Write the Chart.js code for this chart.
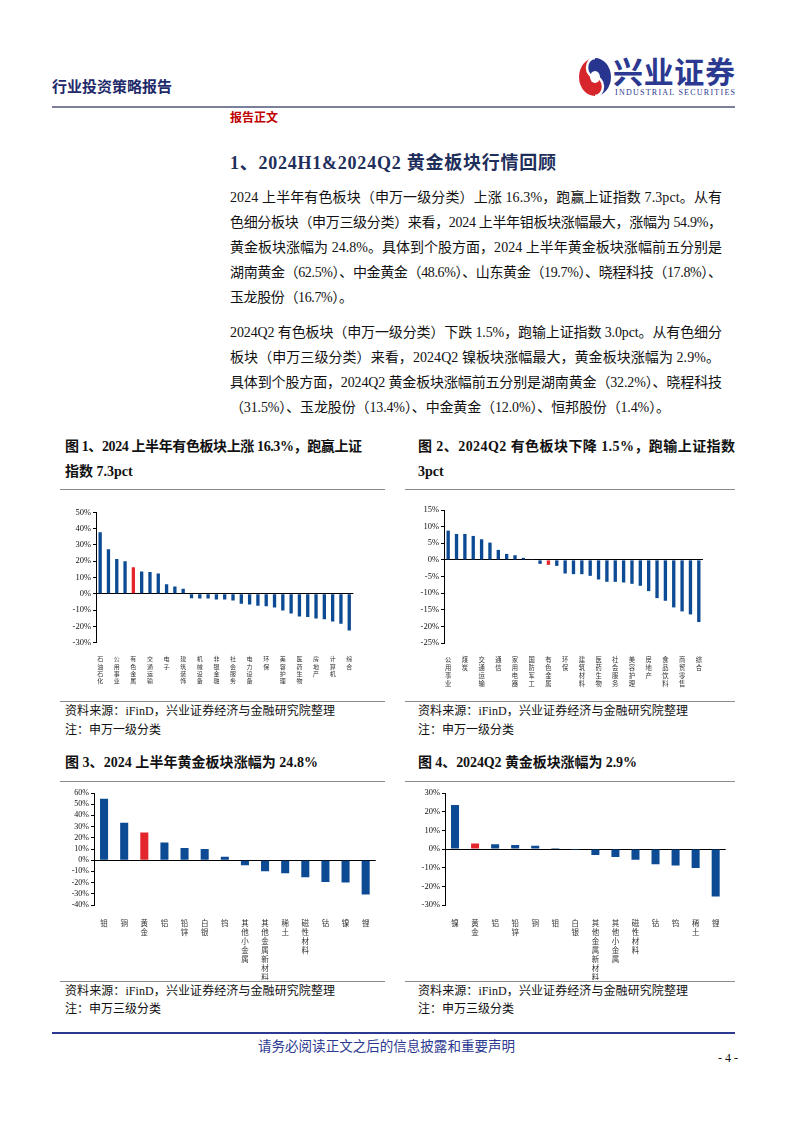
<!DOCTYPE html>
<html><head><meta charset="utf-8">
<script src="https://cdn.jsdelivr.net/npm/chart.js@4.4.1/dist/chart.umd.min.js"></script>
<style>
body{margin:0;background:#fff;}
#page{position:relative;width:802px;height:1133px;overflow:hidden;font-family:"Liberation Serif","Noto Sans CJK SC",serif;color:#111;background:#fff;}
.a{position:absolute;white-space:nowrap;}
.body{font-size:14px;line-height:20px;height:20px;left:230px;}
.ft{font-size:14px;font-weight:bold;line-height:20px;}
.src{font-size:12px;line-height:16px;}
.hr{position:absolute;height:0;border-top:1.5px solid #8a8a8a;}
.box{position:absolute;}
</style></head>
<body><div id="page">

<div class="a" style="left:52px;top:76px;font-size:15px;line-height:20px;font-weight:bold;color:#1f2a6b;font-family:'Noto Sans CJK SC';">行业投资策略报告</div>
<svg class="a" style="left:578px;top:57px" width="34" height="40" viewBox="0 0 34 40">
  <path d="M17,1 A16,19 0 0,0 17,39 A8,9.5 0 0,0 17,20 A8,9.5 0 0,1 17,1 Z" fill="#d7262b"/>
  <path d="M17,1 A16,19 0 0,1 17,39 A8,9.5 0 0,0 17,20 A8,9.5 0 0,1 17,1 Z" fill="#27358f"/>
  <path d="M17,39 A8,9.5 0 0,0 17,20 A8,9.5 0 0,1 17,1" fill="none" stroke="#fff" stroke-width="2.5"/>
  <ellipse cx="17" cy="20" rx="5" ry="6" fill="#fff"/>
</svg>
<div class="a" style="left:613px;top:52px;font-size:30px;line-height:36px;font-weight:bold;color:#2b3990;font-family:'Noto Sans CJK SC';" data-w="122">兴业证券</div>
<div class="a" style="left:615px;top:88px;font-size:8px;line-height:10px;color:#2b3990;font-family:'Liberation Serif';" data-w="120">INDUSTRIAL SECURITIES</div>
<div class="hr" style="left:52px;top:106px;width:683px;border-top:2px solid #7b7f99;"></div>
<div class="a" style="left:230px;top:109px;font-size:12px;line-height:15px;font-weight:bold;color:#c00000;font-family:'Noto Sans CJK SC';">报告正文</div>

<div class="a" style="left:230px;top:151px;font-size:18px;line-height:24px;font-weight:bold;color:#1f2f5c;" data-w="326">1、2024H1&amp;2024Q2 黄金板块行情回顾</div>

<div class="a body" style="top:188px" data-w="492">2024 上半年有色板块（申万一级分类）上涨 16.3%，跑赢上证指数 7.3pct。从有</div>
<div class="a body" style="top:213px" data-w="492">色细分板块（申万三级分类）来看，2024 上半年钼板块涨幅最大，涨幅为 54.9%，</div>
<div class="a body" style="top:238px" data-w="492">黄金板块涨幅为 24.8%。具体到个股方面，2024 上半年黄金板块涨幅前五分别是</div>
<div class="a body" style="top:263px" data-w="492">湖南黄金（62.5%）、中金黄金（48.6%）、山东黄金（19.7%）、晓程科技（17.8%）、</div>
<div class="a body" style="top:288px" data-w="123">玉龙股份（16.7%）。</div>

<div class="a body" style="top:323px" data-w="492">2024Q2 有色板块（申万一级分类）下跌 1.5%，跑输上证指数 3.0pct。从有色细分</div>
<div class="a body" style="top:348px" data-w="490">板块（申万三级分类）来看，2024Q2 镍板块涨幅最大，黄金板块涨幅为 2.9%。</div>
<div class="a body" style="top:373px" data-w="492">具体到个股方面，2024Q2 黄金板块涨幅前五分别是湖南黄金（32.2%）、晓程科技</div>
<div class="a body" style="top:398px" data-w="440">（31.5%）、玉龙股份（13.4%）、中金黄金（12.0%）、恒邦股份（1.4%）。</div>

<div class="a ft" style="left:65px;top:437px" data-w="297">图 1、2024 上半年有色板块上涨 16.3%，跑赢上证</div>
<div class="a ft" style="left:65px;top:462px">指数 7.3pct</div>
<div class="a ft" style="left:418px;top:437px" data-w="317">图 2、2024Q2 有色板块下降 1.5%，跑输上证指数</div>
<div class="a ft" style="left:418px;top:462px">3pct</div>
<div class="hr" style="left:60px;top:489px;width:325px;"></div>
<div class="hr" style="left:405px;top:489px;width:330px;"></div>

<div class="box" style="left:60px;top:500px;width:305px;height:192px;"><canvas id="c1"></canvas></div>
<div class="box" style="left:405px;top:500px;width:310px;height:192px;"><canvas id="c2"></canvas></div>

<div class="hr" style="left:60px;top:701px;width:325px;"></div>
<div class="hr" style="left:405px;top:701px;width:330px;"></div>
<div class="a src" style="left:65px;top:703px" data-w="270">资料来源：iFinD，兴业证券经济与金融研究院整理</div>
<div class="a src" style="left:65px;top:722px">注：申万一级分类</div>
<div class="a src" style="left:418px;top:703px" data-w="270">资料来源：iFinD，兴业证券经济与金融研究院整理</div>
<div class="a src" style="left:418px;top:722px">注：申万一级分类</div>

<div class="a ft" style="left:65px;top:753px" data-w="253">图 3、2024 上半年黄金板块涨幅为 24.8%</div>
<div class="a ft" style="left:418px;top:753px" data-w="219">图 4、2024Q2 黄金板块涨幅为 2.9%</div>
<div class="hr" style="left:60px;top:781px;width:325px;"></div>
<div class="hr" style="left:405px;top:781px;width:330px;"></div>

<div class="box" style="left:60px;top:785px;width:323px;height:195px;"><canvas id="c3"></canvas></div>
<div class="box" style="left:405px;top:785px;width:328px;height:195px;"><canvas id="c4"></canvas></div>

<div class="hr" style="left:60px;top:981px;width:325px;"></div>
<div class="hr" style="left:405px;top:981px;width:330px;"></div>
<div class="a src" style="left:65px;top:983px" data-w="270">资料来源：iFinD，兴业证券经济与金融研究院整理</div>
<div class="a src" style="left:65px;top:1001px">注：申万三级分类</div>
<div class="a src" style="left:418px;top:983px" data-w="270">资料来源：iFinD，兴业证券经济与金融研究院整理</div>
<div class="a src" style="left:418px;top:1001px">注：申万三级分类</div>

<div class="hr" style="left:52px;top:1032px;width:683px;border-top:2px solid #2b3990;"></div>
<div class="a" style="left:258px;top:1036px;font-size:13.5px;line-height:18px;color:#2b3990;font-family:'Noto Sans CJK SC';" data-w="257">请务必阅读正文之后的信息披露和重要声明</div>
<div class="a" style="left:718px;top:1050px;font-size:12px;line-height:16px;">- 4 -</div>

</div>
<script>
// ---- data ----
const sw1H1Labels = ['石油石化','银行','公用事业','煤炭','有色金属','家用电器','交通运输','通信','电子','汽车','建筑装饰','钢铁','机械设备','基础化工','非银金融','国防军工','社会服务','食品饮料','电力设备','建筑材料','环保','轻工制造','美容护理','纺织服饰','医药生物','农林牧渔','房地产','传媒','计算机','商贸零售','综合'];
const sw1H1Values = [37.7, 27.3, 21.3, 19.9, 16.3, 13.7, 13.3, 12.5, 5.9, 4.5, 3.1, -2.7, -2.9, -2.9, -3.5, -3.5, -4.1, -6.1, -6.6, -7.4, -7.6, -8.4, -10.2, -12.1, -13.9, -14.3, -15.2, -15.6, -17.0, -18.4, -22.5];
const sw1Q2Labels = ['公用事业','银行','煤炭','石油石化','交通运输','电子','通信','汽车','家用电器','非银金融','国防军工','钢铁','有色金属','机械设备','环保','基础化工','建筑材料','建筑装饰','医药生物','电力设备','社会服务','轻工制造','美容护理','纺织服饰','房地产','农林牧渔','食品饮料','传媒','商贸零售','计算机','综合'];
const sw1Q2Values = [8.8, 7.8, 7.8, 7.2, 6.2, 5.2, 3.0, 1.8, 1.4, 0.6, 0.1, -1.2, -1.5, -1.8, -4.1, -4.3, -4.3, -4.8, -5.9, -6.6, -6.6, -6.8, -7.2, -7.8, -9.4, -11.5, -12.3, -14.3, -15.5, -16.4, -18.7];
const sw3H1Labels = ['钼','铜','黄金','铝','铅锌','白银','钨','其他小金属','其他金属新材料','稀土','磁性材料','钴','镍','锂'];
const sw3H1Values = [54.9, 33.5, 24.8, 15.8, 11.0, 10.1, 3.0, -4.5, -9.9, -11.6, -15.2, -19.4, -20.0, -30.7];
const sw3Q2Labels = ['镍','黄金','铝','铅锌','铜','钼','白银','其他金属新材料','其他小金属','磁性材料','钴','钨','稀土','锂'];
const sw3Q2Values = [23.6, 2.9, 2.5, 2.1, 1.8, 0.5, -0.5, -3.2, -4.3, -5.7, -8.2, -8.8, -10.2, -25.5];

const BLUE = '#0c4a94', RED = '#e2262b';
const CJK = '"Noto Sans CJK SC", sans-serif';

function fitAll(){
  document.querySelectorAll('[data-w]').forEach(el=>{
    el.style.letterSpacing='0px';
    const w = el.getBoundingClientRect().width;
    const n = Array.from(el.textContent).length;
    if(n>1) el.style.letterSpacing = ((+el.dataset.w - w)/(n-1)) + 'px';
  });
}
fitAll();
if(document.fonts && document.fonts.ready) document.fonts.ready.then(fitAll);

function barChart(id, labels, values, hiName, cfg){
  const colors = labels.map(l => l === hiName ? RED : BLUE);
  return new Chart(document.getElementById(id), {
    type: 'bar',
    data: { labels: labels.map(s => Array.from(s)),
      datasets: [{ data: values, backgroundColor: colors, borderWidth: 0, barPercentage: 0.8, categoryPercentage: 0.5 }] },
    options: {
      responsive: true, maintainAspectRatio: false, animation: false,
      layout: { padding: { top: cfg.padTop, right: cfg.padRight, left: 0, bottom: 0 } },
      plugins: { legend: { display: false }, tooltip: { enabled: false } },
      scales: {
        x: {
          grid: { display: false, drawTicks: false }, border: { display: false },
          ticks: { autoSkip: false, maxRotation: 0, minRotation: 0, padding: cfg.labPad, color: '#333',
            font: { family: CJK, size: cfg.labSize, lineHeight: cfg.labLH },
            callback: function(v, i){ return (i % cfg.every === 0) ? this.getLabelForValue(v) : ''; } },
          afterFit: s => { s.height = cfg.xH; }
        },
        y: {
          min: cfg.min, max: cfg.max,
          ticks: { stepSize: cfg.step, autoSkip: false, callback: v => v + '%', color: '#111', padding: 2,
            font: { family: '"Liberation Serif", serif', size: cfg.yFont } },
          grid: { color: c => (c.tick && c.tick.value === 0) ? '#000' : 'rgba(0,0,0,0)', tickColor: '#000', tickLength: 3, lineWidth: 1 },
          border: { display: true, color: '#000', width: 1 },
          afterFit: s => { s.width = cfg.yW; }
        }
      }
    }
  });
}

barChart('c1', sw1H1Labels, sw1H1Values, '有色金属', {padTop:12.3, padRight:3, yW:36, xH:49.3, min:-30, max:50, step:10, yFont:8.5, labSize:6, labLH:1.22, labPad:12.7, every:2});
barChart('c2', sw1Q2Labels, sw1Q2Values, '有色金属', {padTop:10, padRight:3, yW:39, xH:49, min:-25, max:15, step:5, yFont:8.5, labSize:6.3, labLH:1.27, labPad:13, every:2});
barChart('c3', sw3H1Labels, sw3H1Values, '黄金', {padTop:8, padRight:2, yW:34, xH:75, min:-40, max:60, step:10, yFont:8, labSize:7.5, labLH:1.2, labPad:13.5, every:1});
barChart('c4', sw3Q2Labels, sw3Q2Values, '黄金', {padTop:8, padRight:2, yW:40, xH:75, min:-30, max:30, step:10, yFont:8.5, labSize:7.5, labLH:1.2, labPad:13.5, every:1});
</script>
</body></html>
